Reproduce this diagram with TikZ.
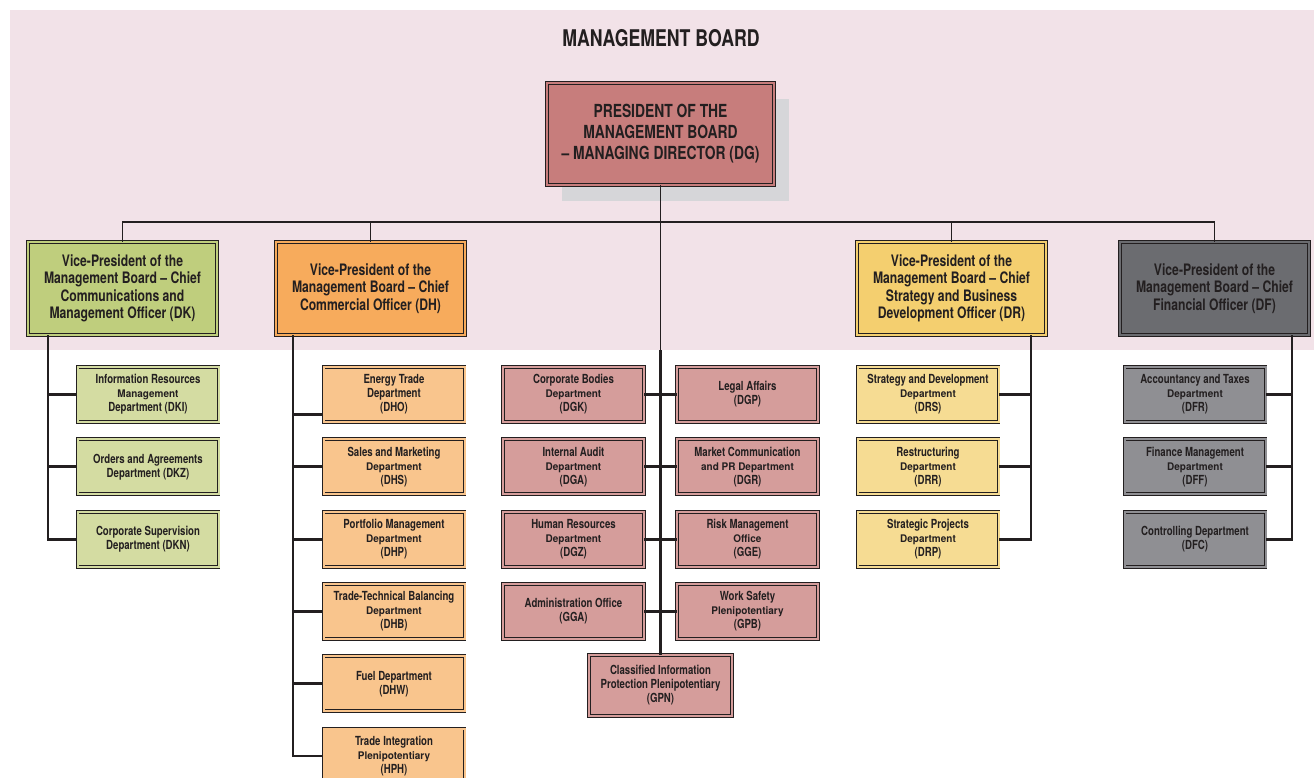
\documentclass[tikz,border=0pt]{standalone}
\usepackage{fontspec}
\setmainfont{TeX Gyre Heros}[FakeStretch=0.77]
\newfontfamily\widefam{TeX Gyre Heros}[FakeStretch=0.95]
\usetikzlibrary{calc, shadows}
\definecolor{ink}{HTML}{231F20}
\definecolor{board}{HTML}{F2E2E8}
\definecolor{shade}{HTML}{D6D6D9}
\definecolor{presred}{HTML}{C77D7C}
\definecolor{dkgreen}{HTML}{BFCE7D}
\definecolor{dkpale}{HTML}{D4DCA2}
\definecolor{dhorange}{HTML}{F7AB5C}
\definecolor{dhpale}{HTML}{F9C58D}
\definecolor{dgpale}{HTML}{D59D9B}
\definecolor{dryellow}{HTML}{F4CF6F}
\definecolor{drpale}{HTML}{F6DC93}
\definecolor{dfgray}{HTML}{6B6C70}
\definecolor{dfpale}{HTML}{8F8F93}
\newcommand{\smline}[1]{{\widefam\fontsize{10.5}{14}\selectfont\bfseries #1}}

\tikzset{
  unitbox/.style={draw=ink, fill=#1, double=#1, double distance=2pt, line width=0.9pt,
    inner sep=0pt, align=center, text=ink},
  vpbox/.style={unitbox=#1, minimum width=189pt, minimum height=93pt,
    font=\fontsize{15.8}{17.5}\selectfont\bfseries},
  subbox/.style={unitbox=#1, minimum width=141pt, minimum height=55pt,
    font=\fontsize{12.5}{14}\selectfont\bfseries},
  thinline/.style={ink, line width=1.2pt},
  trunk/.style={ink, line width=2.8pt},
}

\begin{document}
\begin{tikzpicture}[x=1pt, y=-1pt]
    \useasboundingbox (0,0) rectangle (1314,778);
    % board area
    \fill[board] (10,10) rectangle (1314,350);
    \coordinate (edge) at (0,350);
    \coordinate (bus) at (660,222);
    \node[ink, font=\fontsize{23}{26}\selectfont\bfseries] (title) at (661,38) {MANAGEMENT BOARD};
    \node[unitbox=presred, minimum width=227pt, minimum height=102pt,
      font=\fontsize{18}{21}\selectfont\bfseries,
      general shadow={fill=shade, shadow xshift=15pt, shadow yshift=-16pt}] (pres) at (660.5,134)
      {PRESIDENT OF THE\\MANAGEMENT BOARD\\-- MANAGING DIRECTOR (DG)};
    % vice-presidents
    \foreach \nm/\x/\col/\txt in {
      dk/122.5/dkgreen/{Vice-President of the\\Management Board -- Chief\\Communications and\\Management Officer (DK)},
      dh/370.5/dhorange/{Vice-President of the\\Management Board -- Chief\\Commercial Officer (DH)},
      dr/951.5/dryellow/{Vice-President of the\\Management Board -- Chief\\Strategy and Business\\Development Officer (DR)},
      df/1214.5/dfgray/{Vice-President of the\\Management Board -- Chief\\Financial Officer (DF)}}
      \node[vpbox=\col] (\nm) at (\x,288.5) {\txt};
    % DK departments
    \foreach \nm/\r/\txt in {
      dki/0/{Information Resources\\\smline{Management}\\Department (DKI)},
      dkz/1/{Orders and Agreements\\Department (DKZ)},
      dkn/2/{Corporate Supervision\\Department (DKN)}}
      \node[subbox=dkpale] (\nm) at (148,394.5+\r*72.3) {\txt};
    % DH departments
    \foreach \nm/\r/\txt in {
      dho/0/{Energy Trade\\Department\\(DHO)},
      dhs/1/{Sales and Marketing\\\smline{Department}\\(DHS)},
      dhp/2/{Portfolio Management\\\smline{Department}\\(DHP)},
      dhb/3/{Trade-Technical Balancing\\\smline{Department}\\(DHB)},
      dhw/4/{Fuel Department\\(DHW)},
      hph/5/{Trade Integration\\\smline{Plenipotentiary}\\(HPH)}}
      \node[subbox=dhpale] (\nm) at (394,394.5+\r*72.3) {\txt};
    % DG units, left and right of the trunk
    \foreach \nm/\r/\txt in {
      dgk/0/{Corporate Bodies\\\smline{Department}\\(DGK)},
      dga/1/{Internal Audit\\\smline{Department}\\(DGA)},
      dgz/2/{Human Resources\\\smline{Department}\\(DGZ)},
      gga/3/{Administration Office\\(GGA)}}
      \node[subbox=dgpale] (\nm) at (573.5,394.5+\r*72.3) {\txt};
    \foreach \nm/\r/\txt in {
      dgp/0/{Legal Affairs\\(DGP)},
      dgr/1/{Market Communication\\\smline{and PR Department}\\(DGR)},
      gge/2/{Risk Management\\\smline{Office}\\(GGE)},
      gpb/3/{Work Safety\\\smline{Plenipotentiary}\\(GPB)}}
      \node[subbox=dgpale] (\nm) at (747.5,394.5+\r*72.3) {\txt};
    \node[subbox=dgpale, minimum width=143pt, minimum height=61pt] (gpn) at (660.5,685.5)
      {Classified Information\\Protection Plenipotentiary\\(GPN)};
    % DR departments
    \foreach \nm/\r/\txt in {
      drs/0/{Strategy and Development\\\smline{Department}\\(DRS)},
      drr/1/{Restructuring\\\smline{Department}\\(DRR)},
      drp/2/{Strategic Projects\\\smline{Department}\\(DRP)}}
      \node[subbox=drpale] (\nm) at (928,394.5+\r*72.3) {\txt};
    % DF departments
    \foreach \nm/\r/\txt in {
      dfr/0/{Accountancy and Taxes\\\smline{Department}\\(DFR)},
      dff/1/{Finance Management\\\smline{Department}\\(DFF)},
      dfc/2/{Controlling Department\\(DFC)}}
      \node[subbox=dfpale] (\nm) at (1195,394.5+\r*72.3) {\txt};

    % lines inside the board
    \draw[thinline] (dk.north) -- (dk.north |- bus) -- (df.north |- bus) -- (df.north);
    \foreach \nm in {dh, dr} \draw[thinline] (\nm.north) -- (\nm.north |- bus);
    \draw[thinline] (pres.south) -- (pres.south |- edge);
    \coordinate (dkT) at (48,350);
    \coordinate (dhT) at (293,350);
    \coordinate (drT) at (1031,350);
    \coordinate (dfT) at (1292,350);
    \foreach \nm in {dk, dh, dr, df} \draw[thinline] (\nm.south -| \nm T) -- (\nm T);
    % trunks below the board
    \draw[trunk] (dkT) |- (dkn.west);
    \foreach \nm in {dki, dkz} \draw[trunk] (dkT |- \nm.west) -- (\nm.west);
    \draw[trunk] (dhT) |- (hph.west);
    \draw[trunk] ([yshift=-20pt]dho.west -| dhT) -- ([yshift=-20pt]dho.west);
    \foreach \nm in {dhs, dhp, dhb, dhw} \draw[trunk] (dhT |- \nm.west) -- (\nm.west);
    \draw[trunk] (pres.south |- edge) -- (gpn.north);
    \foreach \a/\b in {dgk/dgp, dga/dgr, dgz/gge, gga/gpb} \draw[trunk] (\a.east) -- (\b.west);
    \draw[trunk] (drT) |- (drp.east);
    \foreach \nm in {drs, drr} \draw[trunk] (drT |- \nm.east) -- (\nm.east);
    \draw[trunk] (dfT) |- (dfc.east);
    \foreach \nm in {dfr, dff} \draw[trunk] (dfT |- \nm.east) -- (\nm.east);
\end{tikzpicture}
\end{document}
